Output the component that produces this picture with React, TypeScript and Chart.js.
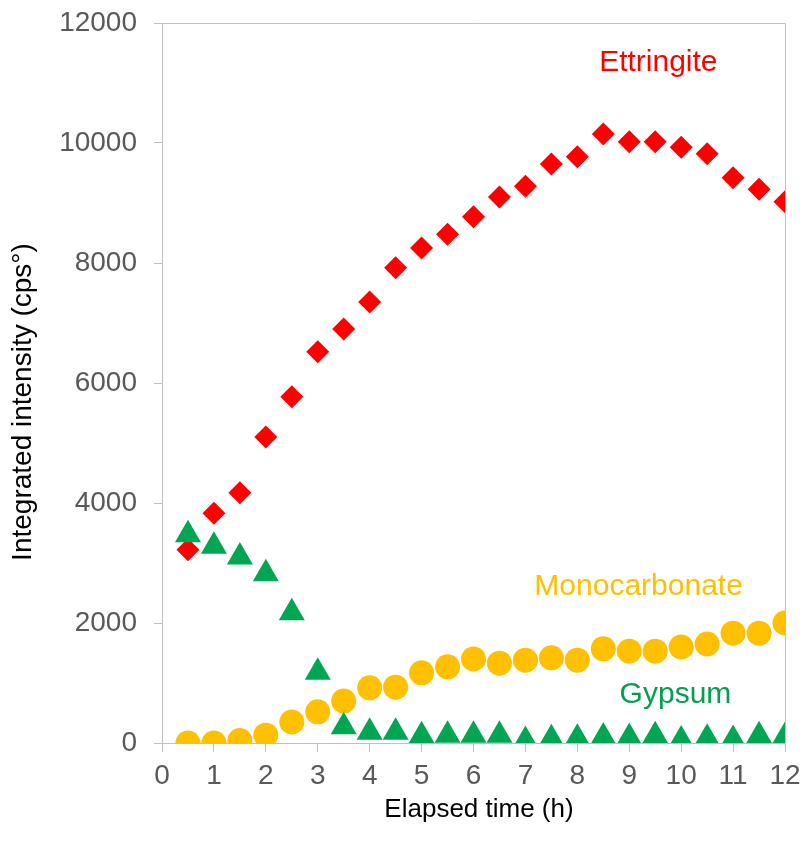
import { useEffect, useRef } from "react";
import { Chart, registerables } from "chart.js";

Chart.register(...registerables);

const timeH = [0.5, 1, 1.5, 2, 2.5, 3, 3.5, 4, 4.5, 5, 5.5, 6, 6.5, 7, 7.5, 8, 8.5, 9, 9.5, 10, 10.5, 11, 11.5, 12];
const ettringite = [3220, 3830, 4170, 5100, 5770, 6520, 6900, 7350, 7920, 8250, 8480, 8770, 9100, 9280, 9650, 9770, 10150, 10020, 10020, 9930, 9820, 9420, 9230, 9020];
const monocarbonate = [0, 0, 40, 130, 350, 520, 700, 920, 930, 1170, 1270, 1400, 1330, 1380, 1420, 1380, 1570, 1530, 1530, 1600, 1650, 1830, 1830, 2000];
const gypsum = [3470, 3280, 3100, 2820, 2170, 1180, 270, 180, 180, 120, 130, 130, 130, 40, 70, 80, 100, 90, 120, 50, 80, 60, 120, 110];

const seriesNames = ["Ettringite", "Monocarbonate", "Gypsum"];
const seriesColors = ["#FF0000", "#FFC000", "#00A651"];
const labelColors = ["#FF0000", "#FFC000", "#00A050"];
const labelX = [9.56, 9.18, 9.89];
const labelY = [11330, 2600, 800];

const xTitle = "Elapsed time (h)";
const yTitle = "Integrated intensity (cps\u00B0)";

const FONT = "'Liberation Sans', Arial, sans-serif";

export default function App() {
  const ref = useRef<HTMLCanvasElement | null>(null);

  useEffect(() => {
    if (!ref.current) return;
    const toPts = (vals: number[]) => vals.map((v, i) => ({ x: timeH[i], y: v }));

    const decor = {
      id: "decor",
      afterDatasetsDraw(chart: any) {
        const { ctx, chartArea } = chart;
        const xs = chart.scales.x;
        const ys = chart.scales.y;
        ctx.save();
        // top and right frame lines
        ctx.strokeStyle = "#BFBFBF";
        ctx.lineWidth = 1;
        const t = Math.round(chartArea.top) + 0.5;
        const r = Math.round(chartArea.right) + 0.5;
        ctx.beginPath();
        ctx.moveTo(chartArea.left, t);
        ctx.lineTo(r, t);
        ctx.lineTo(r, chartArea.bottom);
        ctx.stroke();
        // series labels
        ctx.font = `30px ${FONT}`;
        ctx.textAlign = "center";
        ctx.textBaseline = "middle";
        seriesNames.forEach((name, i) => {
          ctx.fillStyle = labelColors[i];
          ctx.fillText(name, xs.getPixelForValue(labelX[i]), ys.getPixelForValue(labelY[i]));
        });
        // x axis title
        ctx.fillStyle = "#000000";
        ctx.font = `26px ${FONT}`;
        ctx.fillText(xTitle, 471, 802);
        // y axis title
        ctx.translate(15, 394);
        ctx.rotate(-Math.PI / 2);
        ctx.font = `28px ${FONT}`;
        ctx.fillText(yTitle, 0, 0);
        ctx.restore();
      },
    };

    const chart = new Chart(ref.current, {
      type: "scatter",
      data: {
        datasets: [
          {
            label: seriesNames[2],
            data: toPts(gypsum),
            pointStyle: "triangle",
            pointRadius: 15,
            backgroundColor: seriesColors[2],
            borderColor: seriesColors[2],
            borderWidth: 0,
            order: 1,
          },
          {
            label: seriesNames[0],
            data: toPts(ettringite),
            pointStyle: "rectRot",
            pointRadius: 11.5,
            backgroundColor: seriesColors[0],
            borderColor: seriesColors[0],
            borderWidth: 0,
            order: 2,
          },
          {
            label: seriesNames[1],
            data: toPts(monocarbonate),
            pointStyle: "circle",
            pointRadius: 12.5,
            backgroundColor: seriesColors[1],
            borderColor: seriesColors[1],
            borderWidth: 0,
            order: 3,
          },
        ],
      },
      options: {
        animation: false,
        responsive: true,
        maintainAspectRatio: false,
        layout: { padding: { left: 0, top: 15, right: 12, bottom: 0 } },
        plugins: {
          legend: { display: false },
          tooltip: { enabled: false },
        },
        scales: {
          x: {
            type: "linear",
            min: 0,
            max: 12,
            afterFit: (s: any) => {
              s.height = 100;
              s.paddingLeft = 0;
              s.paddingRight = 0;
            },
            ticks: {
              stepSize: 1,
              color: "#595959",
              font: { family: FONT, size: 28 },
              padding: 7,
              maxRotation: 0,
              autoSkip: false,
              callback: (v: any) => String(v),
            },
            grid: {
              drawOnChartArea: false,
              drawTicks: true,
              tickLength: 9,
              color: "#BFBFBF",
            },
            border: { color: "#BFBFBF", width: 1 },
          },
          y: {
            type: "linear",
            min: 0,
            max: 12000,
            afterFit: (s: any) => {
              s.width = 154;
              s.paddingTop = 0;
              s.paddingBottom = 0;
            },
            ticks: {
              stepSize: 2000,
              color: "#595959",
              font: { family: FONT, size: 28 },
              padding: 17,
              callback: (v: any) => String(v),
            },
            grid: {
              drawOnChartArea: false,
              drawTicks: true,
              tickLength: 8,
              color: "#BFBFBF",
            },
            border: { color: "#BFBFBF", width: 1 },
          },
        },
      },
      plugins: [decor],
    });
    return () => chart.destroy();
  }, []);

  return (
    <div style={{ width: 792, height: 835, position: "relative" }}>
      <canvas ref={ref} />
    </div>
  );
}
